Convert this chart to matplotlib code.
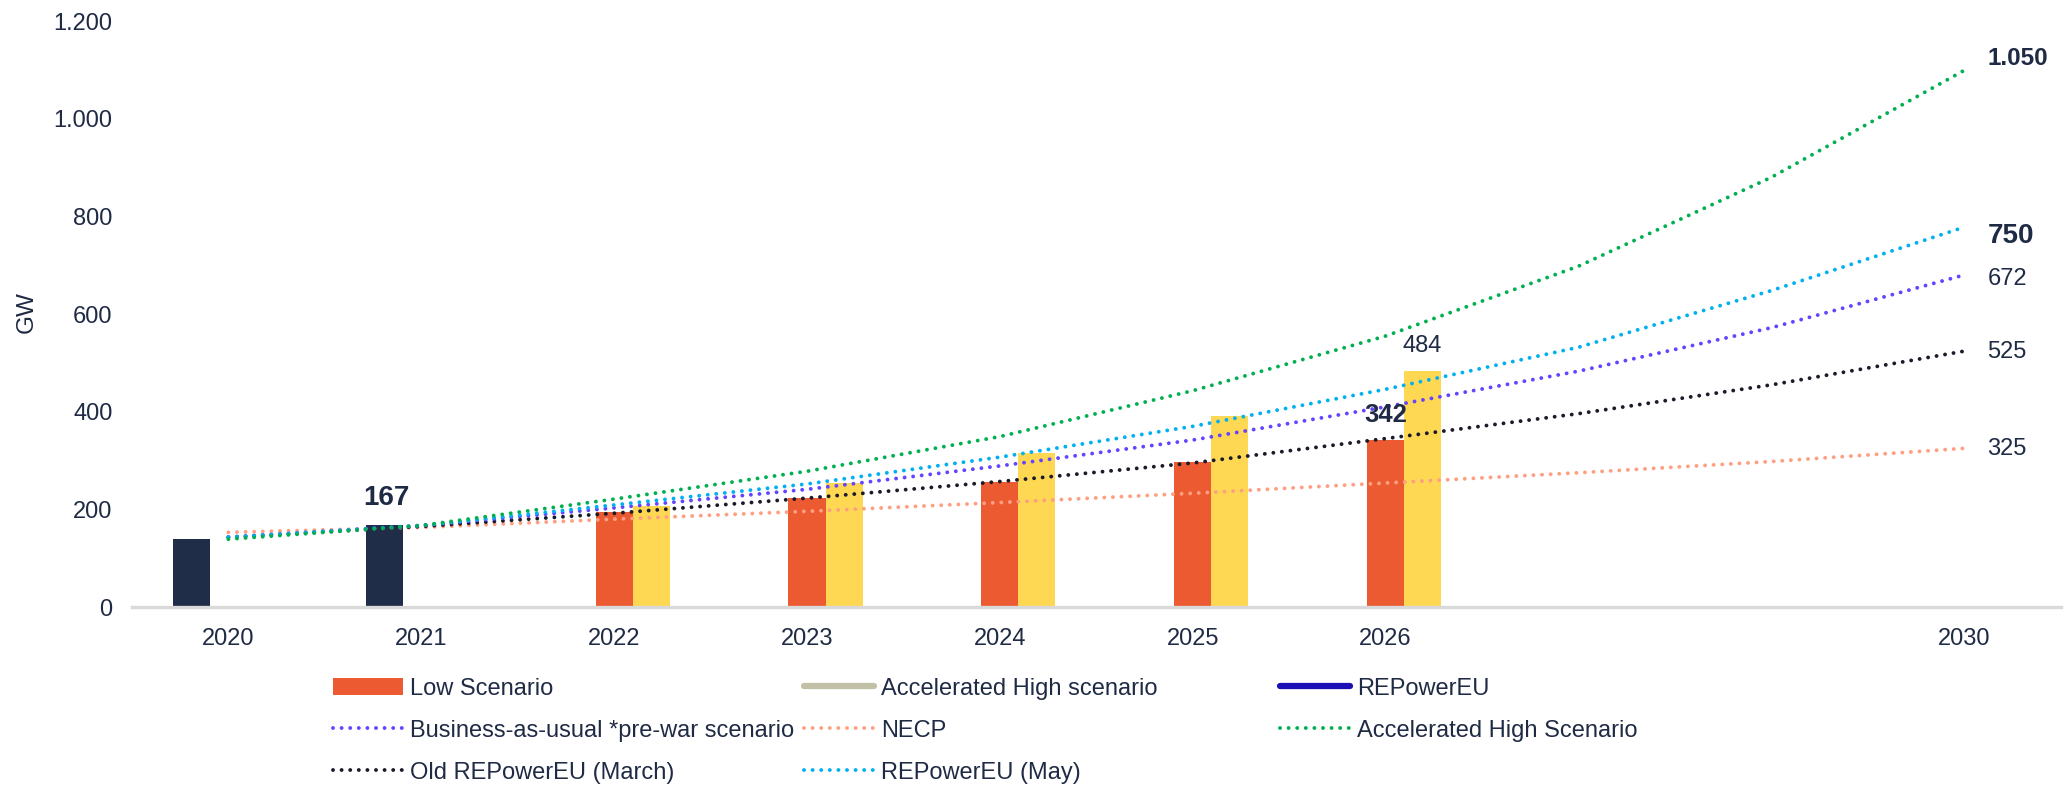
import numpy as np
import matplotlib
matplotlib.use("Agg")
import matplotlib.pyplot as plt
from matplotlib.lines import Line2D
from matplotlib.patches import Patch

plt.rcParams['font.family'] = ['Liberation Sans', 'DejaVu Sans']

# ---------------- data ----------------
categories = ["2020", "2021", "2022", "2023", "2024", "2025", "2026", "", "", "2030"]

historic = [139, 167, None, None, None, None, None, None, None, None]
low_scenario = [None, None, 195, 223, 256, 297, 342, None, None, None]
accel_high_bars = [None, None, 207, 254, 315, 391, 484, None, None, None]

accel_high_line = [139, 167, 221, 278, 349, 443, 555, 698, 880, 1099]
repower_may = [143, 167, 209, 252, 307, 370, 446, 532, 648, 778]
bau_prewar = [143, 167, 203, 241, 289, 342, 410, 483, 572, 680]
old_repower = [143, 165, 192, 223, 257, 295, 345, 396, 455, 524]
necp = [153, 163, 180, 196, 214, 233, 254, 275, 298, 325]

end_labels = ["1.050", "750", "672", "525", "325"]
end_label_y = [1124, 760, 672, 522, 324]
end_label_bold = [True, True, False, False, False]
end_label_size = [17.5, 20, 17, 17, 17]

yticks = [0, 200, 400, 600, 800, 1000, 1200]
ytick_labels = ["0", "200", "400", "600", "800", "1.000", "1.200"]

# ---------------- style ----------------
TEXT = "#1F2A44"
C_DARK = "#1F2D48"
C_ORANGE = "#EB5A31"
C_YELLOW = "#FED853"
C_GREEN = "#00B050"
C_CYAN = "#00B0F0"
C_PURPLE = "#6543FF"
C_BLACK = "#1A1A2A"
C_SALMON = "#FF9F82"
C_BEIGE = "#C3C0A8"
C_BLUE = "#1C0FB5"

fig = plt.figure(figsize=(20.65, 7.86), dpi=100)
ax = fig.add_axes([0.0639, 0.2277, 0.934, 0.7455])

x = np.arange(len(categories))
w = 0.192

def vals(arr):
    return np.array([np.nan if v is None else v for v in arr], dtype=float)

ax.bar(x - w, vals(historic), width=w, color=C_DARK, zorder=2)
ax.bar(x, vals(low_scenario), width=w, color=C_ORANGE, zorder=2)
ax.bar(x + w, vals(accel_high_bars), width=w, color=C_YELLOW, zorder=2)

dot = (0, (0.01, 2.2))
lw = 2.8
line_specs = [
    (necp, C_SALMON),
    (old_repower, C_BLACK),
    (bau_prewar, C_PURPLE),
    (repower_may, C_CYAN),
    (accel_high_line, C_GREEN),
]
for data, col in line_specs:
    ax.plot(x, data, color=col, lw=lw, linestyle=dot, dash_capstyle='round',
            zorder=3)

# annotations
ax.text(1 - w + 0.01, 223, "167", ha='center', va='center', fontsize=20,
        fontweight='bold', color=TEXT, zorder=4)
ax.text(6.0, 393, "342", ha='center', va='center', fontsize=18.5,
        fontweight='bold', color=TEXT, zorder=4)
ax.text(6 + w, 534, "484", ha='center', va='center', fontsize=17,
        color=TEXT, zorder=4)

for lab, yy, b, fs in zip(end_labels, end_label_y, end_label_bold, end_label_size):
    ax.text(9.12, yy, lab, ha='left', va='center', fontsize=fs,
            fontweight='bold' if b else 'normal', color=TEXT)

# axes
ax.set_xlim(-0.5, 9.5)
ax.set_ylim(0, 1200)
ax.set_xticks(x)
ax.set_xticklabels(categories)
ax.set_yticks(yticks)
ax.set_yticklabels(ytick_labels)
ax.tick_params(axis='x', length=0, pad=15, labelsize=17, labelcolor=TEXT)
ax.tick_params(axis='y', length=0, pad=14, labelsize=17, labelcolor=TEXT)
for s in ['top', 'right', 'left']:
    ax.spines[s].set_visible(False)
ax.spines['bottom'].set_color('#D9D9D9')
ax.spines['bottom'].set_linewidth(2.4)
ax.set_ylabel("GW", fontsize=17.5, color=TEXT)
ax.yaxis.set_label_coords(-0.049, 0.503)

# legend (three columns)
def dotted(col):
    return Line2D([0], [0], color=col, lw=lw, linestyle=dot, dash_capstyle='round')

col1 = ([Patch(facecolor=C_ORANGE), dotted(C_PURPLE), dotted(C_BLACK)],
        ["Low Scenario", "Business-as-usual *pre-war scenario", "Old REPowerEU (March)"])
col2 = ([Line2D([0], [0], color=C_BEIGE, lw=4.5, solid_capstyle='round'), dotted(C_SALMON), dotted(C_CYAN)],
        ["Accelerated High scenario", "NECP", "REPowerEU (May)"])
col3 = ([Line2D([0], [0], color=C_BLUE, lw=4.5, solid_capstyle='round'), dotted(C_GREEN)],
        ["REPowerEU", "Accelerated High Scenario"])

for (h, l), xx in zip([col1, col2, col3], [0.1613, 0.3893, 0.6199]):
    fig.legend(h, l, loc='upper left', bbox_to_anchor=(xx, 0.138),
               frameon=False, fontsize=17, handlelength=2.95,
               handletextpad=0.3, labelspacing=0.85, borderpad=0,
               borderaxespad=0, labelcolor=TEXT)

fig.savefig("out.png", dpi=100)
